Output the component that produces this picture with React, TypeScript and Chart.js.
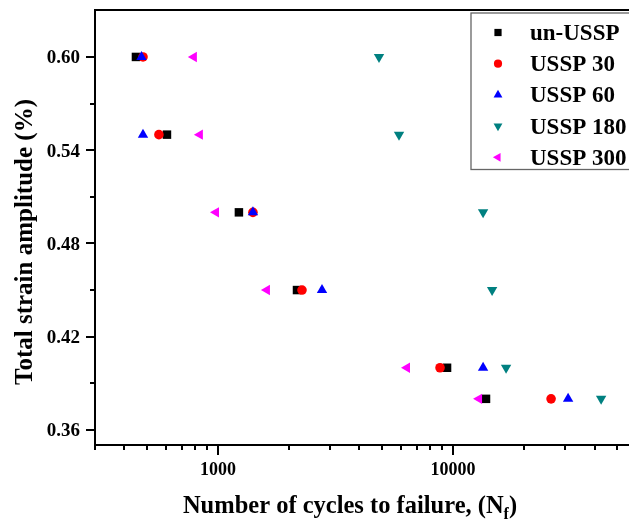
import React, { useEffect, useRef } from "react";
import { Chart, registerables } from "chart.js";
import { drawPoint } from "chart.js/helpers";

Chart.register(...registerables);

// ---- data ----
const strainLevels = [0.6, 0.55, 0.5, 0.45, 0.4, 0.38];
const cyclesUnUSSP = [448, 607, 1228, 2169, 9430, 13810];
const cyclesUSSP30 = [480, 561, 1409, 2278, 8803, 26120];
const cyclesUSSP60 = [473, 480, 1409, 2771, 13420, 30860];
const cyclesUSSP180 = [4843, 5891, 13420, 14660, 16810, 42640];
const cyclesUSSP300 = [790, 838, 981, 1616, 6372, 12900];

const seriesNames = ["un-USSP", "USSP 30", "USSP 60", "USSP 180", "USSP 300"];
const seriesColors = ["#000000", "#ff0000", "#0000ff", "#008080", "#ff00ff"];
const seriesStyles = ["rect", "circle", "triangle", "triangle", "triangle"];
const seriesRotations = [0, 0, 0, 180, 270];
const seriesRadii = [6, 4.8, 6, 6, 6];

const yTickValues = [0.36, 0.42, 0.48, 0.54, 0.6];
const yTickLabels = ["0.36", "0.42", "0.48", "0.54", "0.60"];
const yMinorTickValues = [0.39, 0.45, 0.51, 0.57];
const xMajorTickValues = [1000, 10000];
const xTickLabels = ["1000", "10000"];
const xMinorTickValues = [
  300, 400, 500, 600, 700, 800, 900, 2000, 3000, 4000, 5000, 6000, 7000, 8000,
  9000, 20000, 30000, 40000, 50000,
];

const xTitleMain = "Number of cycles to failure, (N";
const xTitleSub = "f";
const xTitleEnd = ")";
const yTitle = "Total strain amplitude (%)";

const SERIF = '"Liberation Serif", "Times New Roman", serif';

const allSeries = [cyclesUnUSSP, cyclesUSSP30, cyclesUSSP60, cyclesUSSP180, cyclesUSSP300];

const decorPlugin = {
  id: "decor",
  beforeDatasetsDraw(chart: any) {
    const { ctx, chartArea: a, scales } = chart;
    const xs = scales.x;
    const ys = scales.y;
    ctx.save();
    ctx.strokeStyle = "#000";
    ctx.lineWidth = 2;
    ctx.strokeRect(a.left, a.top, a.right - a.left, a.bottom - a.top);

    ctx.beginPath();
    yTickValues.forEach((v) => {
      const p = Math.round(ys.getPixelForValue(v));
      ctx.moveTo(a.left, p);
      ctx.lineTo(a.left - 9, p);
    });
    yMinorTickValues.forEach((v) => {
      const p = Math.round(ys.getPixelForValue(v));
      ctx.moveTo(a.left, p);
      ctx.lineTo(a.left - 5, p);
    });
    xMajorTickValues.forEach((v) => {
      const p = Math.round(xs.getPixelForValue(v));
      ctx.moveTo(p, a.bottom);
      ctx.lineTo(p, a.bottom + 10);
    });
    xMinorTickValues.forEach((v) => {
      const p = Math.round(xs.getPixelForValue(v));
      ctx.moveTo(p, a.bottom);
      ctx.lineTo(p, a.bottom + 5);
    });
    ctx.stroke();

    ctx.fillStyle = "#000";
    ctx.font = "bold 19px " + SERIF;
    ctx.textAlign = "right";
    ctx.textBaseline = "alphabetic";
    yTickValues.forEach((v, i) => {
      ctx.fillText(yTickLabels[i], a.left - 15, ys.getPixelForValue(v) + 6.5);
    });
    ctx.textAlign = "center";
    ctx.font = "bold 18px " + SERIF;
    xMajorTickValues.forEach((v, i) => {
      ctx.fillText(xTickLabels[i], xs.getPixelForValue(v), a.bottom + 30);
    });

    // y title
    ctx.save();
    ctx.translate(31.5, 242);
    ctx.rotate(-Math.PI / 2);
    ctx.font = "bold 25px " + SERIF;
    ctx.textAlign = "center";
    ctx.fillText(yTitle, 0, 0);
    ctx.restore();

    // x title with subscript
    const mainFont = "bold 24.5px " + SERIF;
    const subFont = "bold 16px " + SERIF;
    ctx.textAlign = "left";
    ctx.font = mainFont;
    const w1 = ctx.measureText(xTitleMain).width;
    const w3 = ctx.measureText(xTitleEnd).width;
    ctx.font = subFont;
    const w2 = ctx.measureText(xTitleSub).width;
    const total = w1 + w2 + w3;
    let x0 = 350 - total / 2;
    const base = 513;
    ctx.font = mainFont;
    ctx.fillText(xTitleMain, x0, base);
    ctx.font = subFont;
    ctx.fillText(xTitleSub, x0 + w1, base + 6);
    ctx.font = mainFont;
    ctx.fillText(xTitleEnd, x0 + w1 + w2, base);
    ctx.restore();
  },
  afterDatasetsDraw(chart: any) {
    const { ctx } = chart;
    ctx.save();
    // legend box
    ctx.strokeStyle = "#666";
    ctx.lineWidth = 1.3;
    ctx.strokeRect(471, 13, 200, 156.5);
    const rowY0 = 32.5;
    const rowStep = 31.2;
    ctx.font = "bold 23px " + SERIF;
    ctx.textAlign = "left";
    ctx.textBaseline = "alphabetic";
    seriesNames.forEach((name, i) => {
      const yy = rowY0 + i * rowStep;
      ctx.fillStyle = seriesColors[i];
      ctx.strokeStyle = seriesColors[i];
      drawPoint(
        ctx,
        {
          pointStyle: seriesStyles[i],
          rotation: seriesRotations[i],
          radius: seriesRadii[i] * 0.85,
          borderWidth: 0,
        } as any,
        498,
        yy
      );
      ctx.fillStyle = "#000";
      ctx.fillText(name, 530, yy + 7.5);
    });
    ctx.restore();
  },
};

export default function App() {
  const ref = useRef<HTMLCanvasElement | null>(null);
  useEffect(() => {
    if (!ref.current) return;
    const datasets = seriesNames.map((name, i) => ({
      label: name,
      data: allSeries[i].map((c, j) => ({ x: c, y: strainLevels[j] })),
      backgroundColor: seriesColors[i],
      borderColor: seriesColors[i],
      pointStyle: seriesStyles[i],
      pointRotation: seriesRotations[i],
      pointRadius: seriesRadii[i],
      pointBorderWidth: 0,
      showLine: false,
      order: 5 - i,
    }));
    const chart = new Chart(ref.current, {
      type: "scatter",
      data: { datasets } as any,
      options: {
        responsive: false,
        animation: false,
        devicePixelRatio: 1,
        layout: { padding: { left: 95, top: 10, right: 24, bottom: 76 } },
        plugins: { legend: { display: false }, tooltip: { enabled: false } },
        scales: {
          x: { type: "logarithmic", min: 300, max: 60000, display: false },
          y: { type: "linear", min: 0.3503, max: 0.6302, display: false },
        },
      } as any,
      plugins: [decorPlugin],
    });
    return () => chart.destroy();
  }, []);
  return (
    <div
      style={{
        position: "absolute",
        left: 0,
        top: 0,
        width: 629,
        height: 521,
        overflow: "hidden",
        background: "#fff",
      }}
    >
      <canvas ref={ref} width={660} height={521} style={{ width: 660, height: 521, display: "block" }} />
    </div>
  );
}
